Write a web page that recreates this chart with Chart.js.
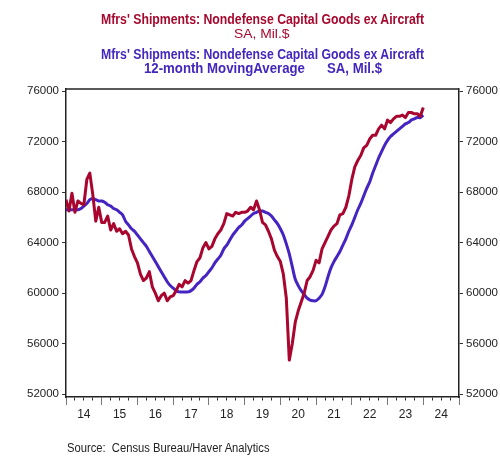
<!DOCTYPE html>
<html><head><meta charset="utf-8">
<script src="https://cdn.jsdelivr.net/npm/chart.js@4.4.1/dist/chart.umd.min.js"></script>
<style>
html,body{margin:0;padding:0;background:#fff;}
#wrap{position:relative;width:500px;height:456px;overflow:hidden;}
#c{position:absolute;left:0;top:0;}
.t{position:absolute;white-space:pre;font-family:"Liberation Sans",Arial,sans-serif;transform-origin:0 0;line-height:1;}
</style></head><body>
<div id="wrap">
<canvas id="c" width="500" height="456"></canvas>
<div class="t" id="t1" style="font-size:14.5px;font-weight:bold;color:#a6092e;">Mfrs' Shipments: Nondefense Capital Goods ex Aircraft</div>
<div class="t" id="t2" style="font-size:13.5px;color:#a6092e;">SA, Mil.$</div>
<div class="t" id="t3" style="font-size:14.5px;font-weight:bold;color:#4427bc;">Mfrs' Shipments: Nondefense Capital Goods ex Aircraft</div>
<div class="t" id="t4" style="font-size:14.5px;font-weight:bold;color:#4427bc;">12-month MovingAverage      SA, Mil.$</div>
<div class="t" id="src" style="font-size:12px;color:#222;">Source:  Census Bureau/Haver Analytics</div>
</div>
<script>
// ---- data ----
const startYear = 2014;
const yearLabels = ['14','15','16','17','18','19','20','21','22','23','24'];
const yTickValues = [52000,56000,60000,64000,68000,72000,76000];
// Monthly shipments, Jan 2014 - Jan 2024 (SA, Mil.$)
const shipments = [
 67400,66500,67900,66400,67300,67100,67000,69000,69500,67800,65700,66800,
 65600,65600,66100,65000,65500,64900,65100,64700,64900,64600,63500,62900,
 62400,61500,61000,61200,61700,60500,60000,59400,59800,60000,59400,59700,
 59800,60200,60700,60500,61000,60800,61000,61800,62500,62800,63600,64000,
 63500,63700,64300,64700,65000,65500,66300,66200,66100,66400,66300,66400,
 66400,66500,66800,66600,67300,66600,65600,65400,64900,64300,63400,62900,
 62500,61500,59600,54700,56000,57700,58600,59300,60000,61000,61300,61800,
 62600,62400,63500,64000,64500,65000,65300,65500,66200,66300,66800,67700,
 69000,70000,70500,70900,71500,71700,72200,72500,72500,73000,73300,73000,
 73700,73500,73800,74000,74000,74100,73900,74300,74300,74200,74200,74000,
 74700
];
// 12-month moving average
const movingAvg = [
 66600,66600,66600,66600,66600,66700,66900,67100,67400,67500,67400,67300,
 67300,67200,67000,66900,66700,66600,66400,66200,65700,65400,65100,64900,
 64600,64300,64000,63700,63300,62900,62500,62100,61700,61300,60900,60600,
 60400,60200,60100,60100,60100,60100,60200,60400,60700,60900,61200,61400,
 61700,62000,62400,62700,63000,63500,63800,64200,64600,64900,65200,65400,
 65700,65900,66100,66300,66400,66500,66500,66400,66300,66100,65800,65500,
 65100,64600,63900,63100,62100,61100,60600,60200,59900,59600,59450,59400,
 59400,59600,59900,60500,61300,62000,62500,62900,63300,63800,64300,64900,
 65400,66000,66600,67100,67700,68300,68800,69500,70100,70700,71200,71700,
 72100,72400,72600,72800,73000,73200,73400,73500,73700,73800,73900,73900,
 74100
];
const months = shipments.map((_, i) => (startYear + Math.floor(i / 12)) + '-' + String(i % 12 + 1).padStart(2, '0'));
const monthIndex = m => (parseInt(m.slice(0, 4)) - startYear) * 12 + parseInt(m.slice(5)) - 1;

const RED = '#a8062e', BLUE = '#4524c2';

function yAxis(pos, w) {
  return {
    type: 'linear', position: pos, min: 51780, max: 76160,
    afterBuildTicks: s => { s.ticks = yTickValues.map(v => ({ value: v })); },
    afterFit: s => { s.width = w; },
    ticks: { font: { family: 'Liberation Sans, Arial, sans-serif', size: 11.5 }, color: '#222', padding: 3,
             callback: v => String(v) },
    grid: { drawOnChartArea: false, drawTicks: true, tickLength: 4, tickColor: '#333', tickWidth: 1 },
    border: { display: true, color: '#222', width: 1.5 }
  };
}

const frame = {
  id: 'frame',
  afterDraw(chart) {
    const { ctx, chartArea: a } = chart;
    ctx.save();
    ctx.strokeStyle = '#222';
    ctx.lineWidth = 1.5;
    ctx.beginPath();
    ctx.moveTo(a.left, a.top);
    ctx.lineTo(a.right, a.top);
    ctx.stroke();
    ctx.restore();
  }
};

new Chart(document.getElementById('c'), {
  type: 'line',
  data: {
    datasets: [
      { label: 'Shipments', data: months.map((m, i) => ({ x: monthIndex(m), y: shipments[i] })),
        borderColor: RED, borderWidth: 3, pointRadius: 0, tension: 0, borderJoinStyle: 'round', yAxisID: 'y' },
      { label: '12-month Moving Average', data: months.map((m, i) => ({ x: monthIndex(m), y: movingAvg[i] })),
        borderColor: BLUE, borderWidth: 3, pointRadius: 0, tension: 0.3, borderJoinStyle: 'round', yAxisID: 'y' }
    ]
  },
  options: {
    responsive: false, animation: false, devicePixelRatio: 1,
    layout: { padding: { top: 89, left: 0, right: 0, bottom: 0 } },
    plugins: { legend: { display: false }, tooltip: { enabled: false }, title: { display: false } },
    scales: {
      x: {
        type: 'linear', position: 'bottom', min: 0, max: yearLabels.length * 12,
        afterBuildTicks: s => { const t = []; for (let v = 0; v <= yearLabels.length * 12; v += 3) t.push({ value: v }); s.ticks = t; },
        afterFit: s => { s.height = 59; },
        ticks: {
          autoSkip: false, maxRotation: 0, padding: 2,
          font: { family: 'Liberation Sans, Arial, sans-serif', size: 12 }, color: '#222',
          callback: v => (v % 12 === 6 ? yearLabels[(v - 6) / 12] : '')
        },
        grid: {
          drawOnChartArea: false, drawTicks: true, tickLength: 8, tickWidth: 1,
          tickColor: c => (c.tick && c.tick.value % 12 === 0 ? '#777' : '#333'),
          tickBorderDash: c => (c.tick && c.tick.value % 12 === 0 ? [] : [3, 30])
        },
        border: { display: true, color: '#222', width: 1.5 }
      },
      y: yAxis('left', 66),
      y2: yAxis('right', 41)
    }
  },
  plugins: [frame]
});

// ---- title / source text placement ----
function place(id, x0, x1, top) {
  const el = document.getElementById(id);
  el.style.left = x0 + 'px';
  el.style.top = top + 'px';
  const w = el.getBoundingClientRect().width;
  el.style.transform = 'scaleX(' + ((x1 - x0) / w) + ')';
}
place('t1', 100.5, 423.5, 12.4);
place('t2', 234, 289.5, 27);
place('t3', 100.5, 423.5, 46.7);
place('t4', 144, 382, 60.7);
place('src', 67, 269.5, 441.5);
</script>
</body></html>
